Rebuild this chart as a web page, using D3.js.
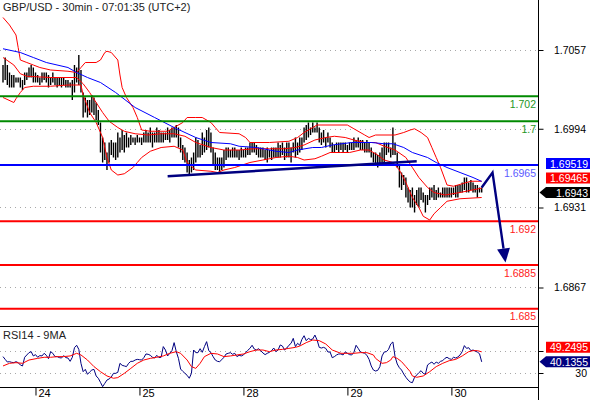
<!DOCTYPE html>
<html><head><meta charset="utf-8">
<script src="https://cdn.jsdelivr.net/npm/d3@7"></script>
<style>html,body{margin:0;padding:0;background:#fff;}svg{display:block;font-family:"Liberation Sans",Arial,sans-serif;}</style>
</head><body>
<svg id="c" width="590" height="400"></svg>
<script>
// ---------------- DATA ----------------
const title = "GBP/USD - 30min - 07:01:35 (UTC+2)";
const rsiTitle = "RSI14 - 9MA";
const dayLabels = ["24","25","28","29","30"];
const dayStartIdx = [15,63,111,159,207];
const priceTicks = [1.7057,1.6994,1.6931,1.6867];
const rsiTicks = [50,30];
const rsiTickLabels = ["", "30"];   // the 50 label is covered by the value box in the reference
const greenLevels = [1.702,1.7];
const blueLevels = [1.6965];
const redLevels = [1.692,1.6885,1.685];

const highs = [
1.7045,1.7051,1.7045,1.7039,1.7037,1.7037,1.7035,1.7035,1.7035,1.7033,
1.7039,1.7039,1.7043,1.7045,1.7043,1.7039,1.7037,1.7035,1.7039,1.7039,
1.7039,1.7037,1.7035,1.7039,1.7035,1.7035,1.7035,1.7035,1.7035,1.7033,
1.7033,1.7031,1.7033,1.7045,1.7043,1.7053,1.7041,1.7023,1.7019,1.7017,
1.7017,1.7021,1.7019,1.7015,1.7009,1.6999,1.6987,1.6983,1.6975,1.6983,
1.6985,1.6983,1.6983,1.6991,1.6987,1.6993,1.6989,1.6991,1.6987,1.6989,
1.6987,1.6987,1.6989,1.6987,1.6987,1.6991,1.6993,1.6991,1.6995,1.6991,
1.6991,1.6995,1.6993,1.6991,1.6991,1.6991,1.6995,1.6993,1.6995,1.6995,
1.6997,1.6995,1.6987,1.6981,1.6979,1.6975,1.6969,1.6971,1.6975,1.6987,
1.6985,1.6981,1.6991,1.6987,1.6993,1.6995,1.6991,1.6979,1.6975,1.6971,
1.6971,1.6971,1.6977,1.6979,1.6979,1.6977,1.6979,1.6979,1.6977,1.6977,
1.6979,1.6977,1.6979,1.6979,1.6983,1.6983,1.6983,1.6981,1.6979,1.6979,
1.6979,1.6977,1.6979,1.6977,1.6979,1.6979,1.6979,1.6983,1.6981,1.6983,
1.6979,1.6983,1.6983,1.6979,1.6983,1.6987,1.6983,1.6987,1.6987,1.6995,
1.6997,1.6999,1.6995,1.6999,1.6995,1.6999,1.6995,1.6991,1.6993,1.6987,
1.6991,1.6987,1.6983,1.6981,1.6983,1.6983,1.6983,1.6983,1.6983,1.6981,
1.6983,1.6983,1.6987,1.6985,1.6987,1.6985,1.6985,1.6983,1.6985,1.6983,
1.6979,1.6975,1.6975,1.6973,1.6975,1.6979,1.6983,1.6983,1.6983,1.6979,
1.6995,1.6983,1.6975,1.6965,1.6959,1.6957,1.6955,1.6947,1.6945,1.6947,
1.6941,1.6945,1.6947,1.6947,1.6943,1.6941,1.6941,1.6947,1.6947,1.6949,
1.6945,1.6947,1.6943,1.6947,1.6947,1.6947,1.6947,1.6947,1.6947,1.6949,
1.6949,1.6949,1.6951,1.6955,1.6955,1.6951,1.6953,1.6951,1.6949,1.6949,
1.6947,1.6947];

const lows = [
1.7031,1.7033,1.7029,1.7027,1.7027,1.7027,1.7031,1.7031,1.7027,1.7025,
1.7029,1.7033,1.7035,1.7035,1.7031,1.7031,1.7031,1.7029,1.7031,1.7033,
1.7031,1.7027,1.7029,1.7031,1.7029,1.7027,1.7029,1.7027,1.7029,1.7027,
1.7027,1.7027,1.7017,1.7023,1.7031,1.7029,1.7023,1.7003,1.7007,1.7003,
1.7005,1.7007,1.7005,1.7001,1.6997,1.6975,1.6967,1.6969,1.6961,1.6967,
1.6973,1.6971,1.6969,1.6971,1.6975,1.6977,1.6975,1.6979,1.6979,1.6981,
1.6983,1.6981,1.6983,1.6983,1.6981,1.6983,1.6983,1.6983,1.6983,1.6979,
1.6983,1.6983,1.6983,1.6983,1.6983,1.6985,1.6985,1.6983,1.6987,1.6987,
1.6987,1.6979,1.6975,1.6969,1.6967,1.6959,1.6957,1.6959,1.6961,1.6967,
1.6971,1.6971,1.6973,1.6975,1.6977,1.6979,1.6975,1.6965,1.6961,1.6961,
1.6959,1.6961,1.6963,1.6969,1.6971,1.6971,1.6971,1.6971,1.6971,1.6969,
1.6971,1.6971,1.6971,1.6973,1.6973,1.6975,1.6975,1.6973,1.6971,1.6971,
1.6971,1.6969,1.6967,1.6971,1.6969,1.6971,1.6971,1.6971,1.6971,1.6973,
1.6969,1.6971,1.6971,1.6967,1.6975,1.6971,1.6973,1.6975,1.6977,1.6983,
1.6985,1.6987,1.6989,1.6991,1.6991,1.6991,1.6983,1.6981,1.6983,1.6979,
1.6983,1.6979,1.6975,1.6975,1.6977,1.6975,1.6977,1.6975,1.6977,1.6975,
1.6977,1.6977,1.6977,1.6979,1.6979,1.6977,1.6977,1.6975,1.6975,1.6975,
1.6971,1.6967,1.6965,1.6963,1.6965,1.6967,1.6967,1.6973,1.6975,1.6971,
1.6973,1.6973,1.6963,1.6947,1.6945,1.6949,1.6939,1.6935,1.6931,1.6931,
1.6927,1.6933,1.6931,1.6937,1.6935,1.6927,1.6933,1.6937,1.6939,1.6937,
1.6937,1.6939,1.6939,1.6939,1.6939,1.6939,1.6939,1.6939,1.6941,1.6939,
1.6939,1.6943,1.6943,1.6945,1.6943,1.6943,1.6945,1.6943,1.6943,1.6939,
1.6943,1.6943];

// [bar index, value]
const upperBand = [[0,1.7083],[3,1.7077],[6,1.7069],[7,1.7059],[8,1.7049],[11,1.7047],[14,1.7045],[17,1.7043],[22,1.7041],[30,1.7040],[34,1.7039],[36,1.7043],[38,1.7047],[43,1.7047],[45,1.7049],[47,1.7055],[48,1.7056],[50,1.7055],[53,1.7049],[54,1.7037],[55,1.7027],[57,1.7019],[60,1.7011],[62,1.7003],[64,1.6993],[68,1.6992],[76,1.6992],[79,1.6995],[83,1.6999],[85,1.7003],[89,1.7003],[92,1.7003],[96,1.6999],[98,1.6995],[100,1.6991],[109,1.6990],[112,1.6987],[114,1.6983],[123,1.6983],[132,1.6984],[136,1.6987],[139,1.6991],[143,1.6995],[145,1.6997],[159,1.6997],[162,1.6994],[167,1.6989],[169,1.6987],[172,1.6989],[181,1.6989],[185,1.6991],[188,1.6993],[190,1.6994],[193,1.6991],[196,1.6987],[198,1.6979],[200,1.6971],[202,1.6963],[205,1.6949],[208,1.6948],[212,1.6950],[216,1.6952],[221,1.6952]];
const middleBand = [[0,1.7051],[5,1.7045],[8,1.7038],[11,1.7036],[22,1.7035],[34,1.7035],[37,1.7030],[40,1.7023],[43,1.7015],[46,1.7007],[49,1.7000],[53,1.6995],[56,1.6992],[61,1.6990],[67,1.6989],[73,1.6990],[79,1.6990],[84,1.6988],[89,1.6983],[96,1.6979],[102,1.6977],[109,1.6977],[116,1.6978],[123,1.6978],[130,1.6978],[135,1.6979],[139,1.6981],[144,1.6985],[149,1.6987],[153,1.6988],[158,1.6987],[162,1.6985],[167,1.6983],[172,1.6983],[176,1.6980],[181,1.6977],[186,1.6971],[189,1.6963],[192,1.6955],[196,1.6947],[199,1.6943],[204,1.6941],[211,1.6943],[221,1.69465]];
const lowerBand = [[0,1.7019],[5,1.7015],[6,1.7018],[8,1.7023],[10,1.7027],[14,1.7028],[22,1.7028],[30,1.7029],[36,1.7029],[37,1.7021],[40,1.7007],[43,1.6999],[46,1.6987],[48,1.6971],[50,1.6961],[53,1.6957],[56,1.6958],[60,1.6963],[62,1.6967],[64,1.6971],[68,1.6976],[73,1.6979],[79,1.6980],[83,1.6977],[85,1.6967],[89,1.6961],[96,1.6960],[99,1.6959],[102,1.6961],[107,1.6963],[114,1.6967],[120,1.6969],[126,1.6971],[132,1.6972],[136,1.6971],[139,1.6969],[144,1.6970],[147,1.6972],[151,1.6975],[156,1.6975],[160,1.6975],[165,1.6977],[169,1.6977],[173,1.6973],[176,1.6969],[180,1.6967],[183,1.6961],[186,1.6951],[189,1.6939],[192,1.6931],[194,1.6924],[197,1.6921],[199,1.6926],[202,1.6931],[205,1.6936],[211,1.6938],[221,1.6939]];
const maLine = [[0,1.7058],[8,1.7055],[14,1.7051],[20,1.7047],[30,1.7043],[34,1.7039],[39,1.7035],[45,1.7031],[52,1.7023],[61,1.7011],[70,1.7003],[79,1.6995],[89,1.6987],[96,1.6983],[105,1.6982],[109,1.6980],[117,1.6979],[126,1.6976],[132,1.6975],[136,1.6977],[143,1.6979],[147,1.6979],[152,1.6981],[161,1.6983],[170,1.6983],[176,1.6982],[180,1.6982],[185,1.6979],[189,1.6975],[196,1.6971],[200,1.6967],[205,1.6963],[211,1.6959],[217,1.6955],[221,1.69519]];

const trendLine = [[76,1.6956],[191,1.6968]];
const forecast = [[221,1.6947],[226,1.6959],[232,1.6887]];
const lastClose = 1.6943;
const maLast = 1.69519, bbMidLast = 1.69465;

const rsi = [
44.9,42.4,40.0,40.3,39.7,39.4,40.3,39.4,37.3,36.4,
44.3,46.4,48.5,49.4,45.5,46.7,44.3,45.8,45.5,47.9,
46.1,43.0,49.4,47.9,44.9,44.9,44.0,43.6,45.8,44.0,
43.6,40.6,44.3,53.0,55.2,51.5,38.8,31.2,33.3,28.8,
30.9,32.7,33.3,27.3,25.2,21.5,17.6,20.6,23.6,24.6,
26.4,29.7,29.7,30.6,38.8,37.0,36.4,35.8,38.8,40.6,
40.6,41.8,42.4,42.1,41.8,43.9,47.3,47.0,46.1,44.3,
43.6,46.1,44.0,44.3,54.0,50.9,45.5,47.9,50.3,57.6,
49.4,43.3,33.6,31.5,29.7,27.9,25.2,29.7,50.9,48.5,
48.5,52.1,48.8,54.0,58.5,50.3,48.5,44.9,41.8,40.6,
40.3,42.1,44.3,47.3,47.9,48.5,47.0,47.9,44.9,46.1,
45.5,46.4,48.5,50.6,52.4,55.2,51.8,50.9,52.1,50.3,
48.2,46.7,47.9,48.8,50.3,52.7,49.4,50.9,55.5,54.5,
50.9,52.7,55.2,57.0,61.5,54.0,57.0,55.2,60.6,63.9,
59.4,61.5,60.3,60.9,64.5,60.0,53.3,52.7,53.3,52.4,
49.1,49.1,43.9,44.9,46.4,47.3,47.3,46.4,49.1,47.9,
46.7,46.4,48.8,55.2,52.4,49.1,48.5,47.9,46.1,42.4,
36.4,32.7,31.8,32.4,35.8,45.5,49.1,49.4,51.5,56.4,
58.2,44.9,38.2,34.8,32.7,29.1,26.1,23.6,21.8,21.2,
26.1,28.2,30.3,32.1,29.7,28.8,37.3,38.8,40.0,37.9,
40.0,38.8,40.6,41.2,43.3,44.3,43.0,42.4,44.3,43.6,
44.6,46.4,49.4,54.9,52.4,53.0,50.3,50.9,50.0,49.0,
47.5,40.1355];
const rsiMA = [[0,36.4],[3,38.8],[6,39.4],[9,38.8],[12,41.8],[16,43.3],[19,44.3],[22,44.3],[25,44.9],[28,44.9],[31,45.5],[34,47.9],[36,46.4],[39,41.8],[42,35.8],[45,31.2],[48,27.3],[51,25.2],[53,25.8],[56,29.7],[59,34.2],[62,38.8],[65,41.8],[68,43.3],[71,44.3],[74,45.5],[77,47.9],[80,49.4],[82,47.9],[85,41.8],[87,35.8],[89,34.2],[91,38.8],[93,44.9],[96,47.9],[99,47.3],[102,44.9],[105,45.5],[108,46.4],[111,47.3],[114,49.4],[117,50.9],[120,50.9],[123,49.4],[126,50.9],[129,51.5],[132,52.4],[135,53.3],[137,54.5],[140,57.6],[143,60.0],[146,59.4],[149,56.4],[152,50.9],[156,47.9],[159,47.9],[162,47.9],[165,48.5],[168,48.5],[171,46.4],[172,43.3],[175,38.8],[177,39.4],[179,41.8],[180,44.9],[182,43.3],[184,40.3],[186,35.8],[188,31.2],[189,27.3],[191,26.1],[194,27.3],[197,31.2],[200,35.8],[203,38.8],[206,41.2],[209,42.4],[212,45.5],[215,49.4],[217,50.3],[219,50.3],[221,49.2495]];

// ---------------- LAYOUT ----------------
const AX = 538.5;           // right axis x
const MAIN_BOTTOM = 326.5, RSI_BOTTOM = 387.5;
const FONT = 10.5;
const GREEN = "#008a00", BLUE = "#0000ff", RED = "#ff0000", NAVY = "#000080";

const x = d3.scaleLinear().domain([0, 221]).range([3, 481.7]);
const y = d3.scaleLinear().domain([1.7097, 1.68362]).range([0, 326]);
const yr = d3.scaleLinear().domain([50, 30]).range([351, 373]);

const svg = d3.select("#c");
const fmt = v => String(v);

// grid lines (dotted)
svg.append("g").selectAll("line").data(priceTicks).join("line")
  .attr("x1", 0).attr("x2", AX).attr("y1", d => Math.round(y(d)) + 0.5).attr("y2", d => Math.round(y(d)) + 0.5)
  .attr("stroke", "#a8a8a8").attr("stroke-dasharray", "1,4");
svg.append("g").selectAll("line").data(rsiTicks).join("line")
  .attr("x1", 0).attr("x2", AX).attr("y1", d => Math.round(yr(d)) + 0.5).attr("y2", d => Math.round(yr(d)) + 0.5)
  .attr("stroke", "#a8a8a8").attr("stroke-dasharray", "1,4");

// price bars (high-low)
svg.append("g").selectAll("line").data(d3.range(highs.length)).join("line")
  .attr("x1", i => x(i)).attr("x2", i => x(i))
  .attr("y1", i => y(highs[i])).attr("y2", i => y(lows[i]))
  .attr("stroke", "#000").attr("stroke-width", 1.4);

// indicator lines
const pl = d3.line().x(d => x(d[0])).y(d => y(d[1]));
[upperBand, middleBand, lowerBand].forEach(b =>
  svg.append("path").attr("d", pl(b)).attr("fill", "none").attr("stroke", RED).attr("stroke-width", 1));
svg.append("path").attr("d", pl(maLine)).attr("fill", "none").attr("stroke", BLUE).attr("stroke-width", 1);

// horizontal levels
function levelGroup(vals, col, txtCol) {
  const g = svg.append("g");
  g.selectAll("line").data(vals).join("line")
    .attr("x1", 0).attr("x2", AX).attr("y1", d => y(d)).attr("y2", d => y(d))
    .attr("stroke", col).attr("stroke-width", 2.2);
  g.selectAll("text").data(vals).join("text")
    .attr("x", 536).attr("y", d => y(d) + 11.5).attr("text-anchor", "end")
    .attr("font-size", FONT).attr("fill", txtCol).text(fmt);
}
levelGroup(greenLevels, GREEN, "#1e961e");
levelGroup(blueLevels, BLUE, "#5a5aff");
levelGroup(redLevels, RED, "#ff2020");

// trend line
svg.append("path").attr("d", pl(trendLine)).attr("stroke", NAVY).attr("stroke-width", 2.6).attr("fill", "none");

// forecast arrow
{
  const pts = forecast.map(d => [x(d[0]), y(d[1])]);
  const [ax1, ay1] = pts[pts.length - 2], [ax2, ay2] = pts[pts.length - 1];
  const L = Math.hypot(ax2 - ax1, ay2 - ay1), ux = (ax2 - ax1) / L, uy = (ay2 - ay1) / L;
  const hl = 14, hw = 6.5;
  const bx = ax2 - ux * hl, by = ay2 - uy * hl;
  const shaft = pts.slice(0, -1).concat([[bx, by]]);
  svg.append("path").attr("d", d3.line()(shaft)).attr("fill", "none").attr("stroke", NAVY).attr("stroke-width", 2.4).attr("stroke-linejoin", "miter");
  svg.append("path").attr("d", d3.line()([[ax2, ay2], [bx - uy * hw, by + ux * hw], [bx + uy * hw, by - ux * hw]]) + "Z").attr("fill", NAVY);
}

// RSI lines
const rl = d3.line().x((d, i) => x(i)).y(d => yr(d));
svg.append("path").attr("d", rl(rsi)).attr("fill", "none").attr("stroke", NAVY).attr("stroke-width", 1);
svg.append("path").attr("d", d3.line().x(d => x(d[0])).y(d => yr(d[1]))(rsiMA)).attr("fill", "none").attr("stroke", RED).attr("stroke-width", 1);

// frame
svg.append("line").attr("x1", AX).attr("x2", AX).attr("y1", 0).attr("y2", 400).attr("stroke", "#000");
svg.append("line").attr("x1", 0).attr("x2", AX).attr("y1", MAIN_BOTTOM).attr("y2", MAIN_BOTTOM).attr("stroke", "#000");
svg.append("line").attr("x1", 0).attr("x2", AX).attr("y1", RSI_BOTTOM).attr("y2", RSI_BOTTOM).attr("stroke", "#000");

// price axis
const pa = svg.append("g").attr("transform", `translate(${AX},0)`)
  .call(d3.axisRight(y).tickValues(priceTicks).tickSize(5).tickFormat(d3.format(".4f")));
pa.select(".domain").remove();
pa.selectAll("text").attr("x", 47.5).attr("text-anchor", "end").attr("font-size", FONT).attr("fill", "#000").attr("font-family", null);

// rsi axis
const ra = svg.append("g").attr("transform", `translate(${AX},0)`)
  .call(d3.axisRight(yr).tickValues(rsiTicks).tickSize(5).tickFormat((d, k) => rsiTickLabels[k]));
ra.select(".domain").remove();
ra.selectAll("text").attr("x", 48.5).attr("text-anchor", "end").attr("font-size", FONT).attr("fill", "#000").attr("font-family", null);

// time axis
const ta = svg.append("g").attr("transform", `translate(0,${RSI_BOTTOM})`)
  .call(d3.axisBottom(x).tickValues(dayStartIdx).tickSize(8).tickFormat((d, k) => dayLabels[k]));
ta.select(".domain").remove();
ta.selectAll("text").attr("x", 2.5).attr("y", 2).attr("text-anchor", "start").attr("font-size", FONT + 0.5).attr("fill", "#000").attr("font-family", null);

// value boxes
function box(cy, col, txt, pointer) {
  const h = 11, x0 = 546, x1 = 590;
  const pts = pointer ? [[539.5, cy], [x0, cy - h / 2], [x1, cy - h / 2], [x1, cy + h / 2], [x0, cy + h / 2]]
                      : [[x0, cy - h / 2], [x1, cy - h / 2], [x1, cy + h / 2], [x0, cy + h / 2]];
  svg.append("path").attr("d", d3.line()(pts) + "Z").attr("fill", col);
  svg.append("text").attr("x", 588).attr("y", cy + 4).attr("text-anchor", "end")
    .attr("font-size", FONT).attr("fill", "#fff").text(txt);
}
const cLast = y(lastClose);
box(cLast - 29, BLUE, d3.format(".5f")(maLast), false);
box(cLast - 14.5, RED, d3.format(".5f")(bbMidLast), false);
box(cLast, "#000", d3.format(".4f")(lastClose), true);
const cR = yr(rsi[rsi.length - 1]);
box(cR - 14.5, RED, d3.format(".4f")(rsiMA[rsiMA.length - 1][1]), false);
box(cR, NAVY, d3.format(".4f")(rsi[rsi.length - 1]), true);

// titles
svg.append("text").attr("x", 3).attr("y", 11).attr("font-size", FONT + 0.5).attr("fill", "#222").text(title);
svg.append("text").attr("x", 3).attr("y", 339).attr("font-size", FONT + 0.5).attr("fill", "#222").text(rsiTitle);
</script>
</body></html>
